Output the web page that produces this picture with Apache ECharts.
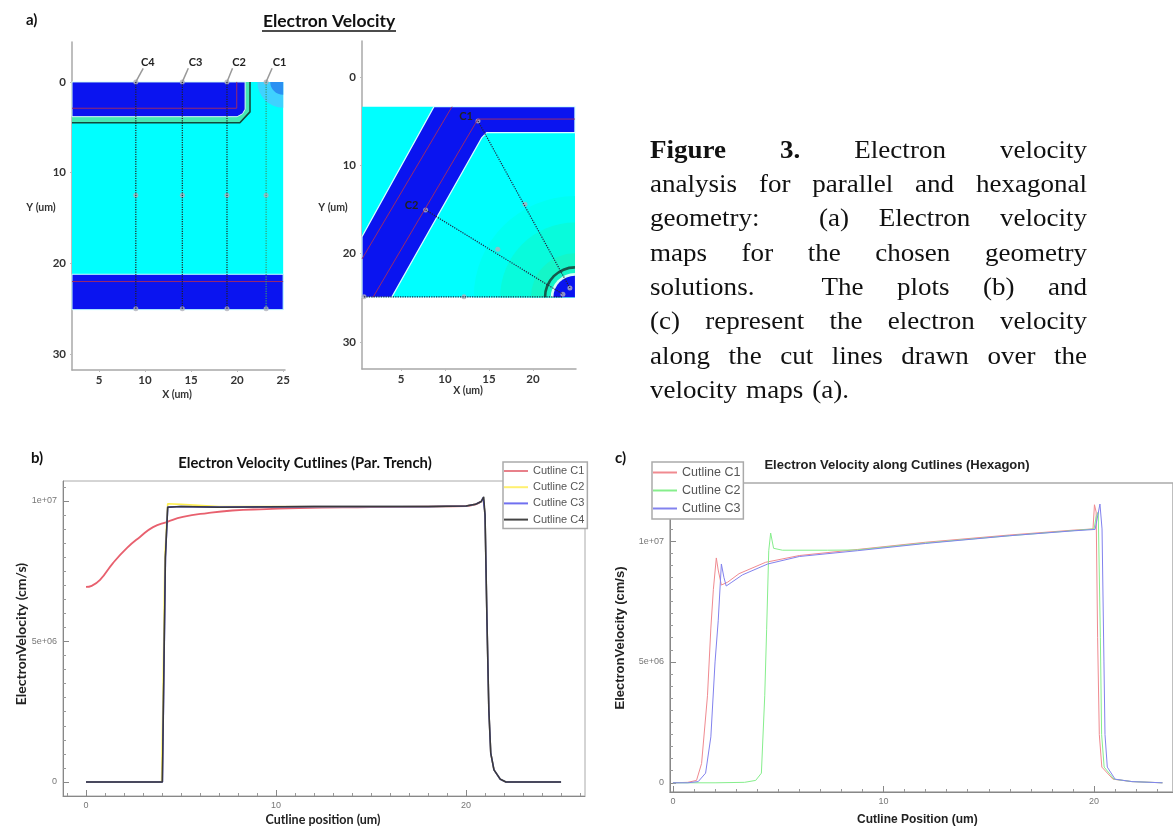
<!DOCTYPE html>
<html><head><meta charset="utf-8"><style>html,body{margin:0;padding:0;background:#fff}#c{width:1173px;height:826px}</style>
<script src="https://cdn.jsdelivr.net/npm/echarts@6/dist/echarts.min.js"></script></head>
<body><div id="c"></div>
<script>
// ---- panel (b) curves: [position um, velocity cm/s]
const bC1 = [[0,6.94e6],[.3,6.98e6],[.74,7.19e6],[1.42,7.79e6],[2.16,8.33e6],[2.84,8.72e6],[3.53,9.07e6],[4.26,9.25e6],[5.1,9.43e6],[6.4,9.57e6],[7.7,9.66e6],[9.5,9.71e6],[11.2,9.75e6],[15,9.78e6],[18,9.8e6],[20,9.82e6],[20.5,9.88e6],[20.8,9.98e6]];
const bC2 = [[0,0],[3.98,0],[4.05,3e6],[4.15,8e6],[4.3,9.9e6],[5,9.88e6],[7,9.8e6],[12,9.8e6],[18,9.8e6],[20,9.82e6],[20.5,9.88e6],[20.8,9.98e6],[20.9,10.1e6],[21,9.5e6],[21.1,5.77e6],[21.2,2.56e6],[21.3,1.03e6],[21.47,.43e6],[21.8,.1e6],[22.1,0],[25,0]];
const bC3 = [[0,0],[4.02,0],[4.08,3e6],[4.18,8e6],[4.3,9.78e6],[5,9.8e6],[7,9.78e6],[12,9.8e6],[18,9.8e6],[20,9.82e6],[20.5,9.88e6],[20.8,9.98e6],[20.9,10.12e6],[21,9.5e6],[21.1,5.77e6],[21.2,2.56e6],[21.3,1.03e6],[21.47,.43e6],[21.8,.1e6],[22.1,0],[25,0]];
const bC4 = [[0,0],[4.02,0],[4.08,3e6],[4.18,8e6],[4.3,9.78e6],[5,9.8e6],[7,9.78e6],[12,9.8e6],[18,9.8e6],[20,9.82e6],[20.5,9.88e6],[20.8,9.98e6],[20.93,10.15e6],[21,9.5e6],[21.1,5.77e6],[21.2,2.56e6],[21.3,1.03e6],[21.47,.43e6],[21.8,.1e6],[22.1,0],[25,0]];
// ---- panel (c) curves
const cC1 = [[0,0],[.7,.02e6],[1.12,.1e6],[1.36,.8e6],[1.64,3.6e6],[1.8,6.4e6],[1.92,8e6],[2.06,9.3e6],[2.15,8.8e6],[2.3,8.18e6],[2.6,8.3e6],[3.14,8.65e6],[4.4,9.12e6],[6,9.4e6],[8.76,9.65e6],[12,9.95e6],[16,10.25e6],[19,10.45e6],[19.95,10.5e6],[20.02,11.5e6],[20.1,11.2e6],[20.17,6e6],[20.25,2e6],[20.37,.65e6],[20.9,.15e6],[21.8,.05e6],[23.25,0]];
const cC2 = [[0,0],[2,0],[3.4,.02e6],[3.93,.1e6],[4.2,.4e6],[4.36,3.6e6],[4.45,6.35e6],[4.55,9.6e6],[4.64,10.33e6],[4.78,9.7e6],[5.2,9.62e6],[7.35,9.62e6],[8.76,9.63e6],[12,9.92e6],[16,10.22e6],[19,10.43e6],[20,10.5e6],[20.1,11e6],[20.2,11.2e6],[20.3,6e6],[20.36,2e6],[20.48,.65e6],[20.95,.15e6],[21.8,.05e6],[23.25,0]];
const cC3 = [[0,0],[.7,0],[1.2,.05e6],[1.55,.4e6],[1.8,1.9e6],[2,5e6],[2.15,6.7e6],[2.3,9.05e6],[2.42,8.5e6],[2.53,8.14e6],[2.8,8.3e6],[3.3,8.6e6],[4.5,9.05e6],[6,9.36e6],[8.76,9.6e6],[12,9.9e6],[16,10.22e6],[19,10.42e6],[20.05,10.48e6],[20.28,11.53e6],[20.38,10.5e6],[20.47,5e6],[20.52,2e6],[20.63,.65e6],[21,.15e6],[21.8,.05e6],[23.25,0]];
// ---- tick lists
const bXMinor = [-1,0,1,2,3,4,5,6,7,8,9,10,11,12,13,14,15,16,17,18,19,20,21,22,23,24,25,26];
const cXMinor = [0,1,2,3,4,5,6,7,8,9,10,11,12,13,14,15,16,17,18,19,20,21,22,23];
const xMajor = [0,10,20];
const yMajor = [0,5e6,1e7];
const yMinorB = [0,.5,1,1.5,2,2.5,3,3.5,4,4.5,5,5.5,6,6.5,7,7.5,8,8.5,9,9.5,10,10.5].map(v=>v*1e6);
const yMinorC = [0,.5,1,1.5,2,2.5,3,3.5,4,4.5,5,5.5,6,6.5,7,7.5,8,8.5,9,9.5,10,10.5,11,11.5,12].map(v=>v*1e6);
const mapXTicks = [5,10,15,20,25];
const mapXTicksR = [5,10,15,20];
const mapYTicks = [0,10,20,30];
// ---- map (parallel trench): regions in um
const parCyan = [[2.07,0],[25,0],[25,25.1],[2.07,25.1]];
const parStrip = [[2.07,0],[21.4,0],[21.4,3.3],[20.3,4.5],[2.07,4.5]];
const parTop = [[2.07,0],[20.87,0],[20.87,3],[20.6,3.5],[20,3.83],[2.07,3.83]];
const parEdge = [[2.07,4.5],[20.3,4.5],[21.4,3.3],[21.4,0]];
const parBottom = [[2.07,21.2],[25,21.2],[25,25.1],[2.07,25.1]];
const parRedTop = [[2.07,2.9],[19.96,2.9],[19.96,0]];
const parRedLow = [[2.07,22],[25,22]];
const parCuts = [{name:'C4',x:9,lx:10.3,ex:9.8},{name:'C3',x:14.05,lx:15.5,ex:14.7},{name:'C2',x:18.9,lx:20.2,ex:19.5},{name:'C1',x:23.15,lx:24.6,ex:23.8}];
// ---- map (hexagon): regions in um
const hexCyan = [[.57,3.36],[24.77,3.36],[24.77,24.95],[.57,24.95]];
const hexTrench = [[8.75,3.36],[24.77,3.36],[24.77,6.3],[14.74,6.3],[14.17,6.9],[3.94,24.95],[.57,24.95],[.57,18.09]];
const hexRed1 = [[24.77,4.76],[13.75,4.76],[1.82,24.95]];
const hexRed2 = [[10.8,3.36],[.57,20.6]];
const hexCutC1 = [[13.75,4.98],[24.2,23.9]];
const hexCutC2 = [[7.8,15.06],[23.4,24.6]];
const hexCutC3 = [[.8,24.9],[23.4,24.9]];
const hexPoints = [[13.75,4.98],[19.09,14.4],[24.2,23.9],[7.8,15.06],[16,19.5],[23.4,24.6],[.8,24.9],[12.16,24.9]];
const hexLabels = [{name:'C1',value:[12.4,4.5]},{name:'C2',value:[6.2,14.6]},{name:'C3',value:[-.3,24.7]}];
const hexCorner = [24.77,24.95];
const hexRings = [{r0:0,r:11.5,c:'#00FFF2'},{r0:0,r:8.5,c:'#08FBDC'},{r0:0,r:5,c:'#14F6C8'},{r0:3.25,r:3.55,c:'#155a4c'},{r0:0,r:2.75,c:'#D8FFF4'},{r0:0,r:2.45,c:'#0A14F0'}];
const parCorner = [25,0];
const parRings = [{r0:0,r:2.8,c:'#3FD2FF'},{r0:0,r:1.4,c:'#2A90F2'}];
// ---- text
const captionLines = ['Figure|3.|Electron|velocity','analysis for parallel and hexagonal','geometry:|(a) Electron velocity','maps for the chosen geometry','solutions.|The plots (b) and','(c) represent the electron velocity','along the cut lines drawn over the','velocity maps (a).'];
const CAP_FONT='26px "Liberation Serif"', CAP_BOLD='bold 26px "Liberation Serif"', CAP_SX=1.04;

const BLUE='#0A14F0', CYAN='#00FFFF', RED='#9A2A6A', GRAY='#a8a8a8';

function poly(g, pts, fill, stroke, lw){
  return {type:'custom',coordinateSystem:'cartesian2d',xAxisIndex:g.x,yAxisIndex:g.y,silent:true,data:pts,
    renderItem(p,api){ if(p.dataIndex!==0) return null;
      return {type:'polygon',shape:{points:pts.map(q=>api.coord(q))},style:{fill,stroke:stroke||null,lineWidth:lw||0}};}};
}
function rings(g, c, list, a0, a1){
  return {type:'custom',coordinateSystem:'cartesian2d',xAxisIndex:g.x,yAxisIndex:g.y,silent:true,data:list.map(()=>c),
    renderItem(p,api){ const o=api.coord(c), s=api.size([1,1]), k=list[p.dataIndex];
      return {type:'sector',shape:{cx:o[0],cy:o[1],r0:k.r0*s[0],r:k.r*s[0],startAngle:a0,endAngle:a1,clockwise:true},style:{fill:k.c}};}};
}
function line(g, data, color, width, type, name, smooth){
  const s={type:'line',xAxisIndex:g.x,yAxisIndex:g.y,data,symbol:'none',silent:true,animation:false,lineStyle:{color,width,type:type||'solid'},itemStyle:{color}};
  if(name) s.name=name;
  if(smooth){s.smooth=smooth;}
  return s;
}
function dots(g,data){return {type:'scatter',xAxisIndex:g.x,yAxisIndex:g.y,data,symbolSize:5,silent:true,itemStyle:{color:'#b0b0bc'}};}
function labels(g,data,fs){return {type:'scatter',xAxisIndex:g.x,yAxisIndex:g.y,data,symbolSize:1,silent:true,itemStyle:{opacity:0},
  label:{show:true,position:'inside',formatter:'{b}',color:'#222',fontFamily:'Lato',fontWeight:'bold',fontSize:fs,opacity:1}};}

const gA={x:0,y:0}, gH={x:1,y:1}, gB={x:2,y:2}, gC={x:4,y:4};
const series=[
  poly(gA,parCyan,CYAN),
  rings(gA,parCorner,parRings,Math.PI/2,Math.PI),
  poly(gA,parStrip,'#45E8B4'),
  poly(gA,parTop,BLUE,'#D8FFF4',1),
  line(gA,parEdge,'#124a3c',1.6),
  poly(gA,parBottom,BLUE,'#C8FFFF',1),
  line(gA,parRedTop,RED,1),
  line(gA,parRedLow,RED,1),
];
parCuts.forEach((c,i)=>{
  series.push(line(gA,[[c.x,0],[c.x,25.1]],i===3?'#3a9a70':'#222',1.2,'dotted'));
  series.push(line(gA,[[c.x,0],[c.ex,-1.5]],'#999',1.5));
  series.push(dots(gA,[[c.x,0],[c.x,12.5],[c.x,25]]));
  series.push(labels(gA,[{name:c.name,value:[c.lx,-2.2]}],11));
});
series.push(
  poly(gH,hexCyan,CYAN),
  rings(gH,hexCorner,hexRings,Math.PI,Math.PI*1.5),
  poly(gH,hexTrench,BLUE,'#D8FFFF',1.2),
  line(gH,hexRed1,RED,1),line(gH,hexRed2,RED,1),
  line(gH,hexCutC1,'#224',1.2,'dotted'),line(gH,hexCutC2,'#224',1.2,'dotted'),line(gH,hexCutC3,'#224',1.2,'dotted'),
  dots(gH,hexPoints),
  labels(gH,hexLabels,11),
  line(gB,bC1,'#E8606E',1.8,'solid','Cutline C1',0.5),
  line(gB,bC2,'#FFF050',1.6,'solid','Cutline C2'),
  line(gB,bC3,'#5050E8',1.6,'solid','Cutline C3'),
  line(gB,bC4,'#3a3a3a',1.5,'solid','Cutline C4'),
  line(gC,cC1,'#F08A90',1,'solid','Cutline C1'),
  line(gC,cC2,'#86EE8C',1,'solid','Cutline C2'),
  line(gC,cC3,'#8282EE',1,'solid','Cutline C3')
);

const mapLabel={color:'#333',fontFamily:'Lato',fontWeight:'bold',fontSize:11.5};
function mapX(grid,min,max,ticks){return {type:'value',gridIndex:grid,min,max,position:'bottom',splitLine:{show:false},
  axisLine:{onZero:false,lineStyle:{color:GRAY,width:1.5}},axisTick:{customValues:ticks,length:2,lineStyle:{color:'#bbb'}},
  axisLabel:{customValues:ticks,margin:4,showMinLabel:true,showMaxLabel:true,...mapLabel}};}
function mapY(grid,min,max,ticks){return {type:'value',gridIndex:grid,min,max,inverse:true,position:'left',splitLine:{show:false},
  axisLine:{onZero:false,lineStyle:{color:GRAY,width:1.5}},axisTick:{customValues:ticks,length:2,lineStyle:{color:'#bbb'}},
  axisLabel:{customValues:ticks,margin:6,...mapLabel}};}
const plotLabel={color:'#777',fontFamily:'Liberation Sans',fontSize:9};
function plotAxis(kind,grid,min,max,minor,major){
  const common={type:'value',gridIndex:grid,min,max,position:kind==='x'?'bottom':'left',splitLine:{show:false}};
  const labelFmt=kind==='y'?(v=>v===0?'0':(v===5e6?'5e+06':'1e+07')):(v=>String(v));
  return [
    {...common,axisLine:{onZero:false,lineStyle:{color:'#888',width:1}},axisTick:{customValues:minor,inside:true,length:3,lineStyle:{color:'#999'}},axisLabel:{show:false}},
    {...common,axisLine:{show:false,onZero:false},axisTick:{customValues:major,inside:true,length:6,lineStyle:{color:'#888'}},
      axisLabel:{customValues:major,margin:kind==='x'?5:6,formatter:labelFmt,...plotLabel}}
  ];
}
const xAxes=[mapX(0,2.07,25.2,mapXTicks),mapX(1,.57,24.89,mapXTicksR),...plotAxis('x',2,-1.21,26.26,bXMinor,xMajor),...plotAxis('x',3,-.14,23.75,cXMinor,xMajor)];
const yAxes=[mapY(0,-4.4,31.75,mapYTicks),mapY(1,-4.08,33.07,mapYTicks),...plotAxis('y',2,-.498e6,10.71e6,yMinorB,yMajor),...plotAxis('y',3,-.38e6,12.4e6,yMinorC,yMajor)];

function txt(text,x,y,font,fill,extra){return Object.assign({type:'text',x,y,z:50,silent:true,style:{text,font,fill:fill||'#111',align:'center',verticalAlign:'middle'}},extra||{});}
function addAlign(el,a){el.style.align=a;return el;}
const graphic=[
  addAlign(txt('a)',26,20,'bold 15px Lato'),'left'),
  txt('Electron Velocity',329,21,'bold 17.5px Lato'),
  {type:'line',z:50,silent:true,shape:{x1:262,y1:31,x2:396,y2:31},style:{stroke:'#111',lineWidth:1.4}},
  txt('X (um)',177,395,'bold 10.5px Lato','#333'),
  txt('X (um)',468,391,'bold 10.5px Lato','#333'),
  txt('Y (um)',41,208,'bold 10.5px Lato','#333'),
  txt('Y (um)',333,208,'bold 10.5px Lato','#333'),
  addAlign(txt('b)',31,458,'bold 15px Lato'),'left'),
  txt('Electron Velocity Cutlines (Par. Trench)',305,463,'bold 14.8px Lato'),
  txt('ElectronVelocity (cm/s)',21,634,'bold 14px Lato','#222',{rotation:Math.PI/2}),
  txt('Cutline position (um)',323,820,'bold 12.5px Lato','#222'),
  addAlign(txt('c)',615,458,'bold 15px Lato'),'left'),
  txt('Electron Velocity along Cutlines (Hexagon)',897,465,'bold 13px "Liberation Sans"','#222'),
  txt('ElectronVelocity (cm/s)',620,638,'bold 13px "Liberation Sans"','#222',{rotation:Math.PI/2}),
  addAlign(txt('Cutline Position (um)',857,820,'bold 12px "Liberation Sans"','#222'),'left'),
];
// justified caption
const ctx=document.createElement('canvas').getContext('2d');
function w(t,f){ctx.font=f;return ctx.measureText(t).width*CAP_SX;}
const capL=650,capR=1087,capY=151,capLH=34.3;
function capWord(t,x,y,f){return addAlign(txt(t,x,y,f,'#111',{scaleX:CAP_SX,scaleY:1}),'left');}
captionLines.forEach((ln,i)=>{
  const y=capY+i*capLH;
  if(i===captionLines.length-1){let x=capL;ln.split(' ').forEach(t=>{graphic.push(capWord(t,x,y,CAP_FONT));x+=w(t,CAP_FONT)+9;});return;}
  const words=ln.replace(/\|/g,' ').split(' ');
  const bold=j=>i===0&&j<2;
  let total=0;words.forEach((t,j)=>total+=w(t,bold(j)?CAP_BOLD:CAP_FONT));
  const seps=[];ln.split('|').forEach((seg,si,arr)=>{const n=seg.split(' ').length;for(let q=0;q<n-1;q++)seps.push(1);if(si<arr.length-1)seps.push(2);});
  const unit=(capR-capL-total)/seps.reduce((a,b)=>a+b,0);
  let x=capL;words.forEach((t,j)=>{const f=bold(j)?CAP_BOLD:CAP_FONT;graphic.push(capWord(t,x,y,f));x+=w(t,f)+(seps[j]||0)*unit;});
});

const legendBase={orient:'vertical',icon:'rect',backgroundColor:'#fff',borderColor:'#aaa',borderWidth:1.5,borderRadius:0,selectedMode:false,itemWidth:24,itemHeight:2,z:40};
const chart=echarts.init(document.getElementById('c'),null,{renderer:'canvas'});
chart.setOption({
  animation:false,backgroundColor:'#fff',
  grid:[
    {left:72,top:42,width:213,height:328},
    {left:362,top:41,width:214,height:328},
    {left:63,top:481,width:522,height:315,show:true,borderColor:'#aaa',borderWidth:1,backgroundColor:'transparent'},
    {left:670,top:483,width:510,height:309,show:true,borderColor:'#aaa',borderWidth:1.5,backgroundColor:'transparent'}
  ],
  xAxis:xAxes,yAxis:yAxes,series,graphic,
  legend:[
    {...legendBase,left:503,top:462,itemGap:4.2,padding:[3,3,3,1],textStyle:{fontFamily:'Liberation Sans',fontSize:11,lineHeight:12,color:'#555'},
      data:[{name:'Cutline C1',itemStyle:{color:'#E8808A'}},{name:'Cutline C2',itemStyle:{color:'#FFF070'}},{name:'Cutline C3',itemStyle:{color:'#7070F0'}},{name:'Cutline C4',itemStyle:{color:'#444'}}]},
    {...legendBase,left:652,top:462,itemGap:5,padding:[4,3,4,1],textStyle:{fontFamily:'Liberation Sans',fontSize:12.5,lineHeight:13,color:'#555'},
      data:[{name:'Cutline C1',itemStyle:{color:'#F08A90'}},{name:'Cutline C2',itemStyle:{color:'#86EE8C'}},{name:'Cutline C3',itemStyle:{color:'#8282EE'}}]}
  ]
});
</script></body></html>
